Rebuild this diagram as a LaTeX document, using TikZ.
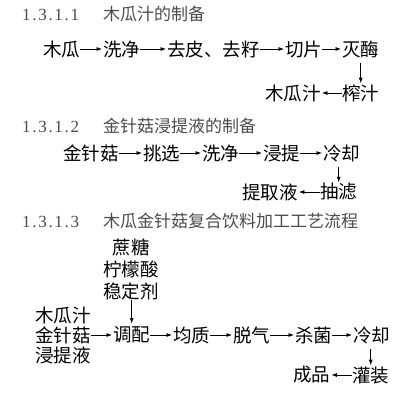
\documentclass[tikz,border=0pt]{standalone}
\usepackage{fontspec}
\setmainfont{Liberation Serif}
\newfontfamily\cjk{Noto Sans CJK SC}
\newfontfamily\numfont[LetterSpace=10]{Liberation Serif}
\usetikzlibrary{arrows.meta,positioning}

\tikzset{
  proc/.style={anchor=west, inner sep=0pt, font=\cjk\fontsize{18.5}{22}\selectfont},
  title/.style={anchor=west, inner sep=0pt, text=black!70, font=\fontsize{17}{20}\selectfont},
  flow/.style={draw, line width=0.7pt, shorten >=1pt, -{Latex[length=5.5pt,width=4pt]}},
  down/.style={flow, shorten <=5pt}
}

\begin{document}
\begin{tikzpicture}[x=1pt, y=-1pt]
    \useasboundingbox (0,0) rectangle (403,400);

    % 1.3.1.1
    \node[title] (h1) at (22,14) {\makebox[81pt][l]{\numfont 1.3.1.1}{\cjk 木瓜汁的制备}};
    \node[proc] (mg)  at (43,49)  {木瓜};
    \node[proc] (xj)  at (103,49) {洗净};
    \node[proc] (qp)  at (167,49) {去皮、去籽};
    \node[proc] (qpn) at (285,49) {切片};
    \node[proc] (my)  at (342,49) {灭酶};
    \node[proc] (zz)  at (342,93) {榨汁};
    \node[proc] (mgz) at (265,93) {木瓜汁};
    \draw[flow] (mg) -- (xj);
    \draw[flow] (xj) -- (qp);
    \draw[flow] (qp) -- (qpn);
    \draw[flow] (qpn) -- (my);
    \draw[down] (my) -- (zz);
    \draw[flow] (zz) -- (mgz);

    % 1.3.1.2
    \node[title] (h2) at (22,126) {\makebox[81pt][l]{\numfont 1.3.1.2}{\cjk 金针菇浸提液的制备}};
    \node[proc] (jzg) at (63,153)  {金针菇};
    \node[proc] (tx)  at (143,153) {挑选};
    \node[proc] (xj2) at (202,153) {洗净};
    \node[proc] (jt)  at (263,153) {浸提};
    \node[proc] (lq)  at (323,153) {冷却};
    \node[proc] (cl)  at (320,192) {抽滤};
    \node[proc] (tqy) at (242,192) {提取液};
    \draw[flow] (jzg) -- (tx);
    \draw[flow] (tx) -- (xj2);
    \draw[flow] (xj2) -- (jt);
    \draw[flow] (jt) -- (lq);
    \draw[down] (lq.south -| cl.north) -- (cl.north);
    \draw[flow] (cl) -- (tqy);

    % 1.3.1.3
    \node[title] (h3) at (22,221) {\makebox[81pt][l]{\numfont 1.3.1.3}{\cjk 木瓜金针菇复合饮料加工工艺流程}};
    \node[proc, anchor=center, align=center] (add) at (131,269) {蔗糖\\柠檬酸\\稳定剂};
    \node[proc, align=left, font=\cjk\fontsize{18.5}{20}\selectfont] (raw) at (35,335) {木瓜汁\\金针菇\\浸提液};
    \node[proc] (tp)  at (113,335) {调配};
    \node[proc] (jz)  at (173,335) {均质};
    \node[proc] (tq)  at (233,335) {脱气};
    \node[proc] (sj)  at (295,335) {杀菌};
    \node[proc] (lq3) at (353,335) {冷却};
    \node[proc] (gz)  at (352,375) {灌装};
    \node[proc] (cp)  at (293,375) {成品};
    \draw[flow, shorten >=3pt] (add.south -| tp.north) -- (tp.north);
    \draw[flow] (raw) -- (tp);
    \draw[flow] (tp) -- (jz);
    \draw[flow] (jz) -- (tq);
    \draw[flow] (tq) -- (sj);
    \draw[flow] (sj) -- (lq3);
    \draw[down] (lq3.south -| gz.north) -- (gz.north);
    \draw[flow] (gz) -- (cp);
\end{tikzpicture}
\end{document}
